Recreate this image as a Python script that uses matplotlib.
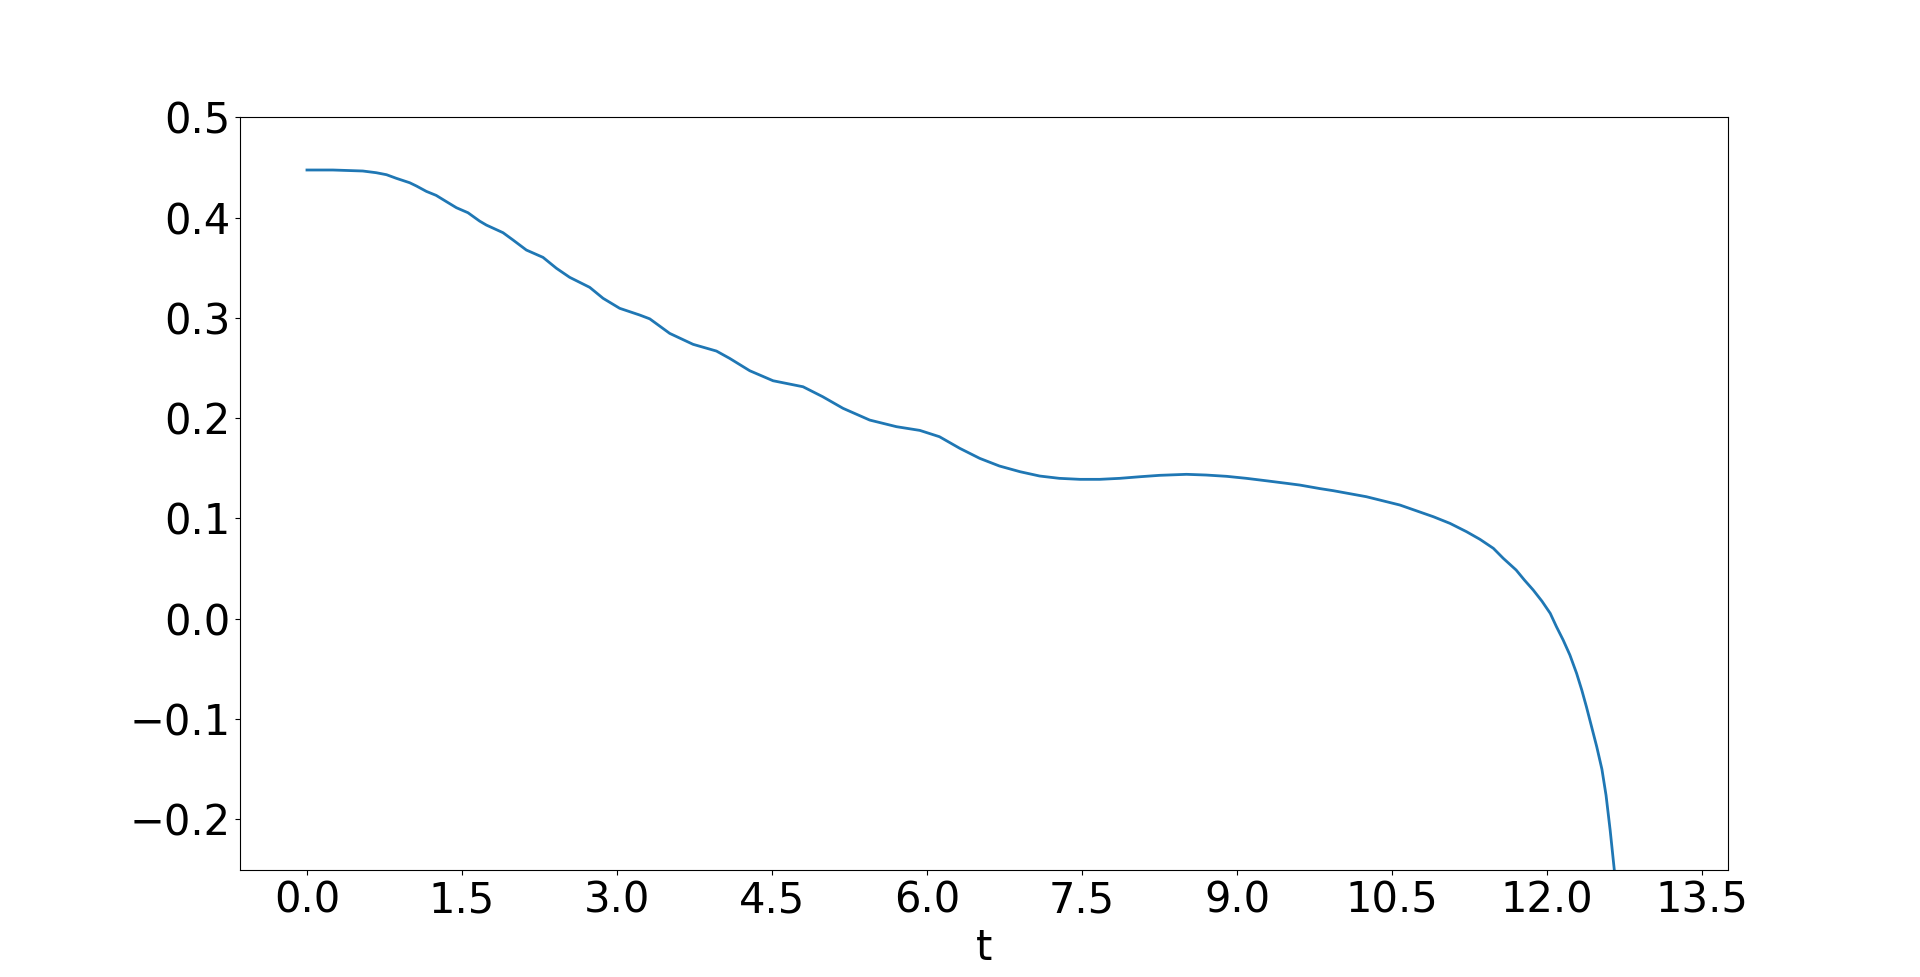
import numpy as np
import matplotlib
matplotlib.use("Agg")
import matplotlib.pyplot as plt


# values
t_vals = [
    0.00, 0.25, 0.54, 0.67, 0.77, 0.865, 0.994, 1.06, 1.155, 1.25,
    1.35, 1.446, 1.558, 1.67, 1.736, 1.897, 1.994, 2.123, 2.284, 2.414,
    2.542, 2.736, 2.865, 3.026, 3.22, 3.317, 3.51, 3.736, 3.962, 4.09,
    4.284, 4.51, 4.80, 4.99, 5.187, 5.445, 5.704, 5.93, 6.12, 6.317,
    6.51, 6.70, 6.90, 7.09, 7.28, 7.48, 7.67, 7.865, 8.06, 8.25,
    8.51, 8.70, 8.90, 9.09, 9.28, 9.48, 9.607, 9.80, 9.93, 10.25,
    10.575, 10.90, 11.06, 11.22, 11.35, 11.48, 11.575, 11.70, 11.78, 11.865,
    11.95, 12.03, 12.09, 12.155, 12.22, 12.285, 12.335, 12.38, 12.43, 12.48,
    12.53, 12.57, 12.61, 12.65, 12.72,
]
y_vals = [
    0.4474, 0.4474, 0.4464, 0.4447, 0.4427, 0.4391, 0.4347, 0.4314, 0.4261, 0.4221,
    0.4158, 0.4098, 0.4048, 0.3965, 0.3925, 0.3849, 0.3776, 0.3676, 0.3603, 0.3494,
    0.3404, 0.3304, 0.3195, 0.3095, 0.3028, 0.2990, 0.2845, 0.2736, 0.2669, 0.2596,
    0.2473, 0.2373, 0.2313, 0.2214, 0.2098, 0.1981, 0.1915, 0.1878, 0.1815, 0.1699,
    0.1599, 0.1523, 0.1466, 0.1423, 0.1400, 0.1390, 0.1390, 0.1400, 0.1416, 0.1430,
    0.1440, 0.1433, 0.1420, 0.1400, 0.1376, 0.1350, 0.1333, 0.1298, 0.1277, 0.1217,
    0.1134, 0.1017, 0.0951, 0.0868, 0.0792, 0.0702, 0.0603, 0.0486, 0.0386, 0.0287,
    0.0175, 0.0054, -0.0079, -0.0212, -0.0361, -0.0544, -0.0710, -0.0877, -0.1076, -0.1276,
    -0.1500, -0.1760, -0.2110, -0.2505, -0.32,
]
x_ticks = np.arange(0, 14, 1.5)


fig, ax = plt.subplots(figsize=(19.2, 9.77), dpi=100)
ax.plot(t_vals, y_vals, linewidth=2)

ax.set_xlim(-0.648, 13.75)
ax.set_ylim(-0.25, 0.5)
ax.set_xticks(x_ticks)
ax.tick_params(labelsize=30)
ax.set_xlabel("t", fontsize=30)

fig.savefig("out.png", dpi=100)
